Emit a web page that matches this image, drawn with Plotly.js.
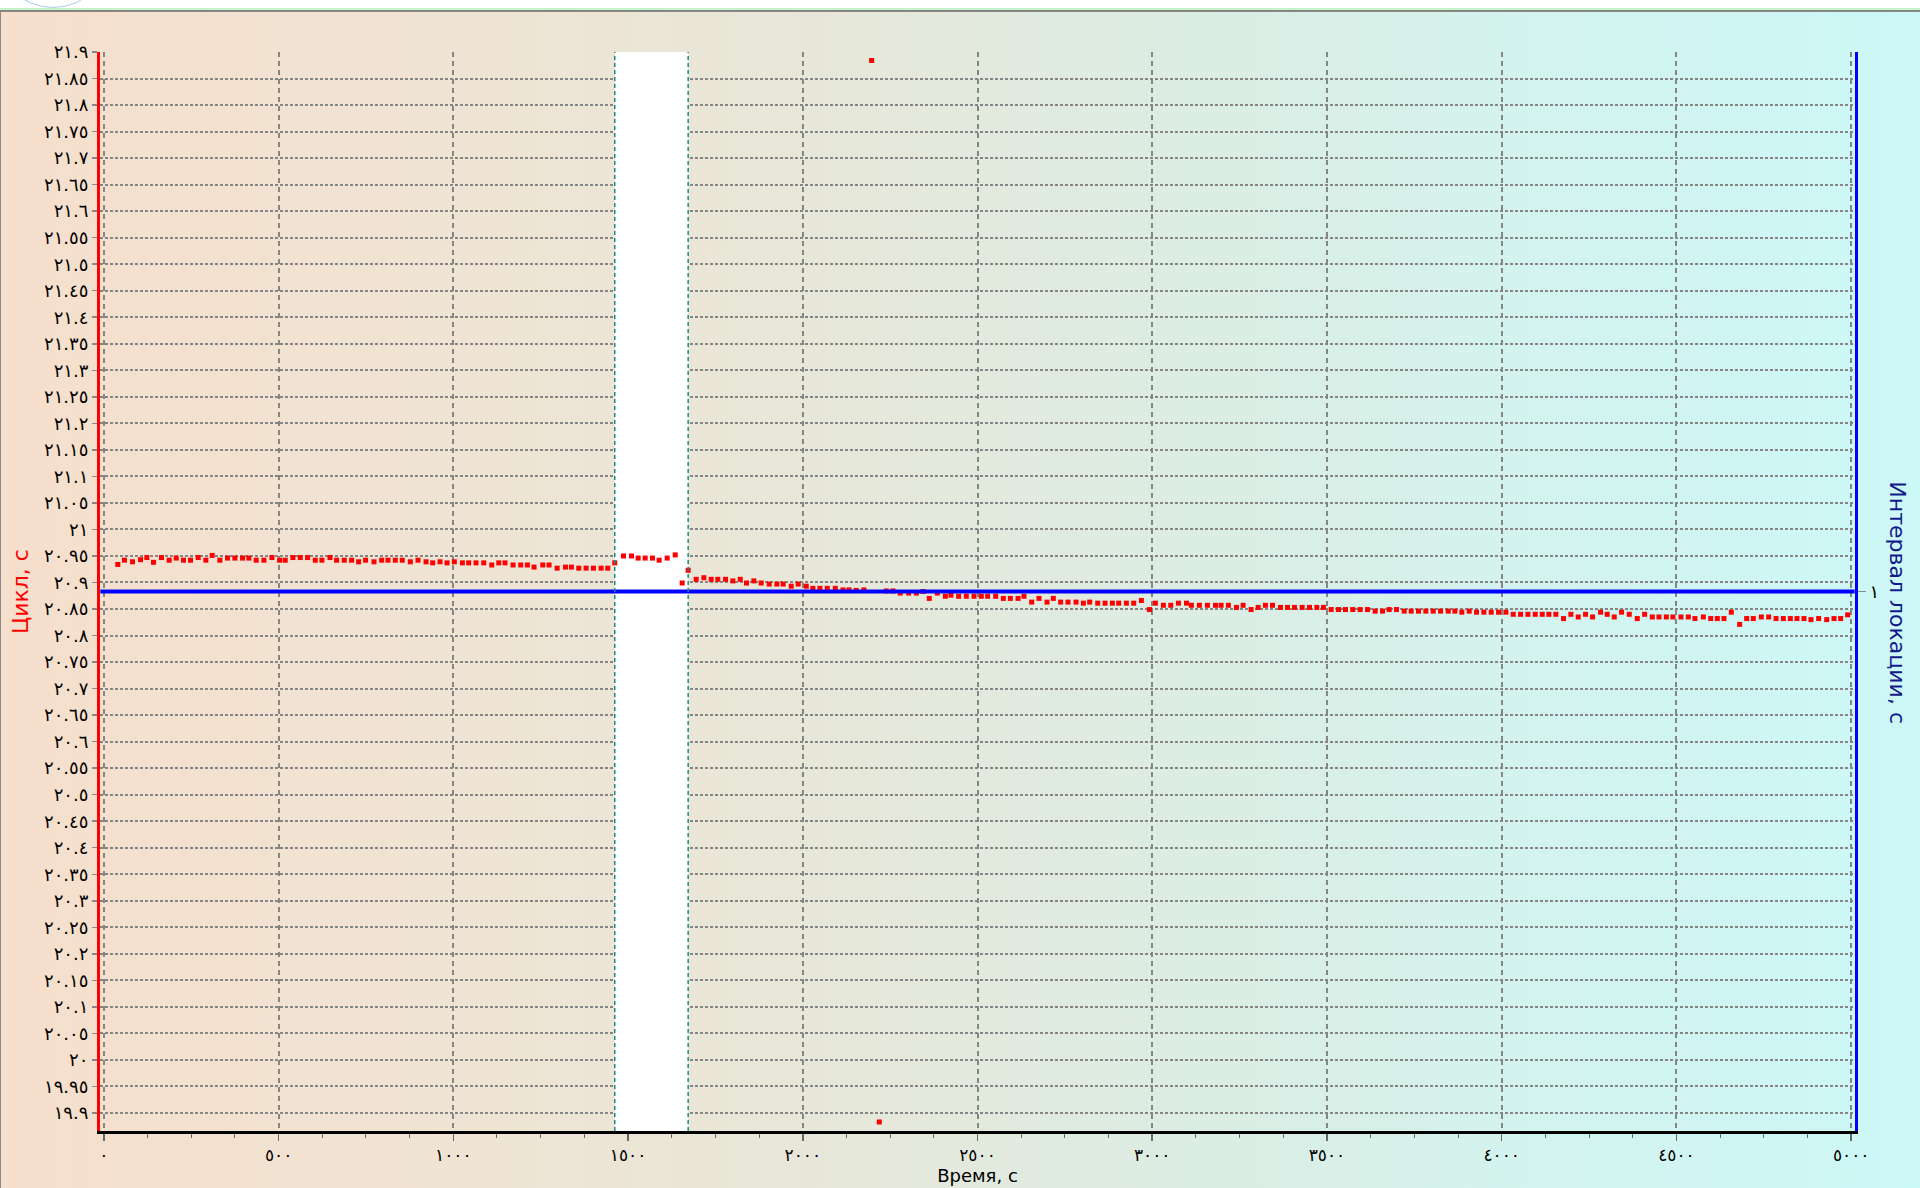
<!DOCTYPE html>
<html>
<head>
<meta charset="utf-8">
<script src="https://cdn.plot.ly/plotly-3.0.1.min.js"></script>
<style>
  html, body { margin:0; padding:0; width:1920px; height:1188px; overflow:hidden; background:#ffffff; }
  #bg { position:absolute; left:0; top:12px; width:1920px; height:1176px;
        background:linear-gradient(to right, #f6dfcc 0%, #efe4d4 25%, #e6e8da 45%, #dcede3 62%, #d3f3ee 80%, #ccf8f7 100%);
        border-left:1px solid #8a8a8a; box-sizing:border-box; }
  #topline1 { position:absolute; left:0; top:8px; width:1920px; height:2px; background:#c6f3c8; }
  #topline2 { position:absolute; left:0; top:10px; width:1920px; height:3px; background:#858585; }
  #logo { position:absolute; left:-5px; top:-108px; width:114px; height:114px; border-radius:50%;
          border:1px solid #a9cdea; background:#ffffff; }
  #chart { position:absolute; left:0; top:0; width:1920px; height:1188px; }
</style>
</head>
<body>
<div id="logo"></div>
<div id="topline1"></div>
<div id="topline2"></div>
<div id="bg"></div>
<div id="chart"></div>
<script>
// ---- Data ----
const timeS = [40,59,82,105,123,142,165,187,207,228,248,270,292,310,332,354,375,397,415,436,458,481,503,519,541,562,583,605,624,647,666,688,709,729,749,773,795,813,834,854,877,899,922,941,962,982,1003,1026,1044,1065,1087,1110,1130,1148,1171,1193,1212,1231,1256,1274,1297,1321,1338,1359,1380,1401,1423,1442,1462,1487,1510,1529,1549,1570,1589,1612,1635,1655,1672,1695,1717,1738,1757,1779,1800,1821,1839,1860,1881,1904,1926,
  1944,1967,1987,2010,2029,2049,2070,2093,2115,2132,2153,2175,2197,2219,2239,2258,2279,2303,2325,2344,2362,2385,2408,2424,2446,2468,2490,2511,2529,2552,2574,2594,2616,2633,2655,2676,2699,2717,2738,2759,2782,2803,2821,2844,2865,2886,2904,2926,2947,2969,2992,3009,3032,3053,3075,3098,3112,3135,3158,3181,3197,3218,3241,3260,3283,3303,
  3324,3344,3367,3387,3407,3429,3450,3471,3490,3512,3533,3553,3574,3595,3616,3638,3659,3678,3699,3721,3741,3762,3783,3804,3825,3847,3866,3886,3907,3928,3949,3970,3991,4012,4033,4054,4075,4096,4116,4135,4155,4177,4198,4219,4240,4260,4283,4302,4322,4343,4365,4388,4409,4431,4450,4471,4490,4513,4534,4553,4577,4598,4617,4636,4657,4681,4701,4720,4743,4764,4785,4806,4826,4845,4865,4885,4907,4930,4951,4970,4990];
const cycleS = [20.934,20.942,20.939,20.943,20.947,20.938,20.947,20.942,20.946,20.942,20.942,20.947,20.942,20.951,20.942,20.946,20.946,20.946,20.946,20.942,20.942,20.947,20.942,20.942,20.947,20.947,20.947,20.942,20.942,20.947,20.942,20.942,20.942,20.939,20.942,20.939,20.942,20.942,20.942,20.942,20.939,20.942,20.939,20.937,20.939,20.937,20.939,20.937,20.937,20.937,20.937,20.933,20.937,20.937,20.933,20.933,20.933,20.929,20.933,20.933,20.927,20.929,20.929,20.927,20.927,20.927,20.927,20.927,20.937,20.950,20.950,20.946,20.946,20.946,20.942,20.946,20.952,20.899,20.923,20.906,20.909,20.906,20.906,20.906,20.903,20.906,20.899,20.903,20.899,20.897,20.897,
  20.897,20.893,20.897,20.893,20.889,20.889,20.889,20.889,20.886,20.886,20.885,20.886,21.884,19.883,20.884,20.884,20.880,20.880,20.880,20.883,20.870,20.880,20.874,20.876,20.874,20.874,20.874,20.874,20.874,20.874,20.870,20.870,20.870,20.874,20.863,20.870,20.863,20.870,20.863,20.863,20.863,20.861,20.863,20.861,20.861,20.861,20.861,20.861,20.861,20.866,20.849,20.861,20.857,20.857,20.861,20.861,20.857,20.857,20.857,20.857,20.857,20.857,20.853,20.857,20.849,20.853,
  20.857,20.857,20.853,20.853,20.853,20.853,20.853,20.853,20.853,20.849,20.849,20.849,20.849,20.849,20.849,20.846,20.846,20.849,20.849,20.846,20.846,20.846,20.846,20.846,20.846,20.846,20.846,20.844,20.846,20.844,20.844,20.844,20.844,20.844,20.840,20.840,20.840,20.840,20.840,20.840,20.840,20.832,20.840,20.835,20.840,20.835,20.844,20.840,20.835,20.844,20.840,20.832,20.840,20.835,20.835,20.835,20.835,20.835,20.835,20.832,20.835,20.832,20.832,20.832,20.844,20.821,20.832,20.832,20.835,20.835,20.832,20.832,20.832,20.832,20.832,20.830,20.832,20.830,20.832,20.832,20.839];

const intervalTime = [-10, 5010];
const intervalValue = [1, 1];

const bandStart = [1462];
const bandEnd = [1672];

const xTickVals = [0,500,1000,1500,2000,2500,3000,3500,4000,4500,5000];
const xTickLabels = ["٠","٥٠٠","١٠٠٠","١٥٠٠","٢٠٠٠","٢٥٠٠","٣٠٠٠","٣٥٠٠","٤٠٠٠","٤٥٠٠","٥٠٠٠"];

const yTickVals = [19.9,19.95,20,20.05,20.1,20.15,20.2,20.25,20.3,20.35,20.4,20.45,20.5,20.55,20.6,20.65,20.7,20.75,20.8,20.85,20.9,20.95,21,21.05,21.1,21.15,21.2,21.25,21.3,21.35,21.4,21.45,21.5,21.55,21.6,21.65,21.7,21.75,21.8,21.85,21.9];
const yTickLabels = ["١٩.٩","١٩.٩٥","٢٠","٢٠.٠٥","٢٠.١","٢٠.١٥","٢٠.٢","٢٠.٢٥","٢٠.٣","٢٠.٣٥","٢٠.٤","٢٠.٤٥","٢٠.٥","٢٠.٥٥","٢٠.٦","٢٠.٦٥","٢٠.٧","٢٠.٧٥","٢٠.٨","٢٠.٨٥","٢٠.٩","٢٠.٩٥","٢١","٢١.٠٥","٢١.١","٢١.١٥","٢١.٢","٢١.٢٥","٢١.٣","٢١.٣٥","٢١.٤","٢١.٤٥","٢١.٥","٢١.٥٥","٢١.٦","٢١.٦٥","٢١.٧","٢١.٧٥","٢١.٨","٢١.٨٥","٢١.٩"];

const y2TickVals = [1];
const y2TickLabels = ["١"];

// ---- Axis ranges ----
const xRange = [-11, 5011];
const yRange = [19.866, 21.9];
const y2Range = [0, 2];

const tickFamily = '"DejaVu Sans", "Liberation Serif", serif';
const titleFamily = '"DejaVu Sans", "Liberation Sans", Arial, sans-serif';
const gridCol = '#858585';

const traces = [
  {
    type:'bar', x:bandStart.map((s,i)=>(s+bandEnd[i])/2), width:bandStart.map((s,i)=>bandEnd[i]-s),
    base:bandStart.map(()=>yRange[0]), y:bandStart.map(()=>yRange[1]-yRange[0]),
    marker:{color:'#ffffff', line:{width:0}}, hoverinfo:'skip', showlegend:false
  },
  {
    type:'scatter', mode:'markers', name:'Цикл, с', x:timeS, y:cycleS,
    marker:{symbol:'square', size:5, color:'#ff0000', line:{width:0}}
  },
  {
    type:'scatter', mode:'lines', name:'Интервал локации, с', x:intervalTime, y:intervalValue, yaxis:'y2',
    line:{color:'#0000ff', width:4}
  }
];

const shapes = [];
bandStart.forEach((s,i)=>{
  [s, bandEnd[i]].forEach(v=>{
    shapes.push({type:'line', xref:'x', yref:'paper', x0:v, x1:v, y0:0, y1:1,
      line:{color:'#1a8a8a', width:1.5, dash:'4px,3px'}, layer:'above'});
  });
});

const layout = {
  width:1920, height:1188,
  margin:{l:100, r:65, t:52, b:57, pad:0},
  paper_bgcolor:'rgba(0,0,0,0)', plot_bgcolor:'rgba(0,0,0,0)',
  showlegend:false, bargap:0,
  xaxis:{
    range:xRange, tickmode:'array', tickvals:xTickVals, ticktext:xTickLabels,
    ticks:'outside', ticklen:7, tickwidth:1.5, tickcolor:'#666666',
    showline:true, linecolor:'#000000', linewidth:2.5,
    showgrid:true, gridcolor:gridCol, gridwidth:2, griddash:'5px,4px', zeroline:false,
    minor:{tickmode:'linear', tick0:0, dtick:125, ticks:'outside', ticklen:4, tickwidth:1, tickcolor:'#666666', showgrid:false},
    tickfont:{family:tickFamily, size:17, color:'#000000'},
    title:{text:'Время, с', font:{family:titleFamily, size:18, color:'#000000'}, standoff:5}
  },
  yaxis:{
    range:yRange, tickmode:'array', tickvals:yTickVals, ticktext:yTickLabels,
    ticks:'outside', ticklen:5, tickwidth:1.5, tickcolor:'#888888',
    showline:true, linecolor:'#ff0000', linewidth:3,
    showgrid:true, gridcolor:gridCol, gridwidth:2, griddash:'3px,2px', zeroline:false,
    tickfont:{family:tickFamily, size:18, color:'#000000'},
    title:{text:'Цикл, с', font:{family:titleFamily, size:22, color:'#ff0000'}, standoff:10}
  },
  yaxis2:{
    overlaying:'y', side:'right', range:y2Range, tickmode:'array', tickvals:y2TickVals, ticktext:y2TickLabels,
    ticks:'outside', ticklen:8, tickwidth:1.5, tickcolor:'#888888',
    showline:true, linecolor:'#0000ff', linewidth:3, showgrid:false, zeroline:false,
    tickfont:{family:tickFamily, size:18, color:'#000000'}
  },
  shapes:shapes,
  annotations:[{
    text:'Интервал локации, с', textangle:90, xref:'paper', yref:'paper', x:1.0245, y:0.489,
    xanchor:'center', yanchor:'middle', showarrow:false,
    font:{family:titleFamily, size:22, color:'#141a8c'}
  }]
};

Plotly.newPlot('chart', traces, layout, {displayModeBar:false, staticPlot:true});
</script>
</body>
</html>
